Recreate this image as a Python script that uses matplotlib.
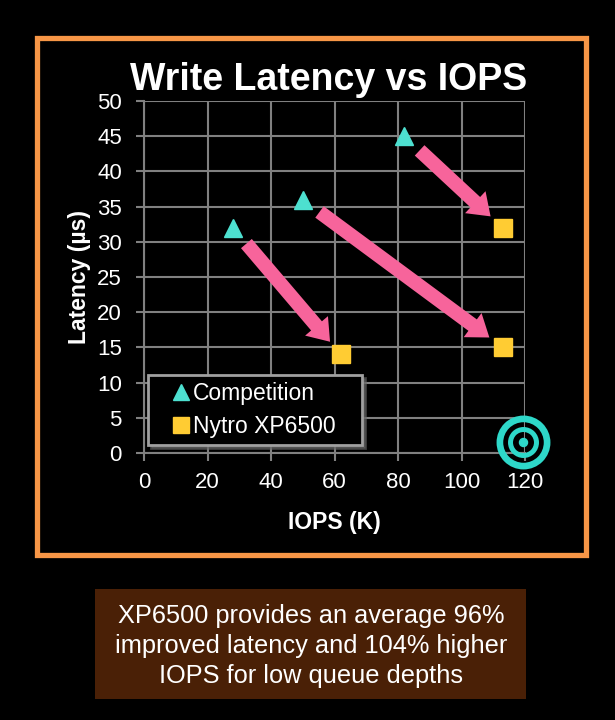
import matplotlib
matplotlib.use("Agg")
import matplotlib.pyplot as plt
from matplotlib.patches import Rectangle

plt.rcParams['font.family'] = ['Liberation Sans', 'DejaVu Sans']

# ---- data ----
competition_iops = [28, 50, 82]
competition_latency = [32, 36, 45]
nytro_iops = [62, 113, 113]
nytro_latency = [14, 15, 32]
# arrows: competition index -> nytro index
arrow_pairs = [(0, 0), (1, 1), (2, 2)]
series_labels = ["Competition", "Nytro XP6500"]
x_ticks = [0, 20, 40, 60, 80, 100, 120]
y_ticks = [0, 5, 10, 15, 20, 25, 30, 35, 40, 45, 50]
title = "Write Latency vs IOPS"
x_label = "IOPS (K)"
y_label = "Latency (µs)"
footnote = ("XP6500 provides an average 96%\n"
            "improved latency and 104% higher\n"
            "IOPS for low queue depths")

W, H = 615, 720
fig = plt.figure(figsize=(W / 100, H / 100), dpi=100, facecolor='black')

def fx(px):
    return px / W

def fy(py):
    return 1 - py / H

# orange frame
fig.patches.append(Rectangle((fx(37), fy(555)), fx(586) - fx(37), fy(38) - fy(555),
                             transform=fig.transFigure, fill=False,
                             edgecolor='#F79646', linewidth=3.8, zorder=0))
# brown footnote box
fig.patches.append(Rectangle((fx(95), fy(699)), fx(526) - fx(95), fy(589) - fy(699),
                             transform=fig.transFigure, facecolor='#4A2006',
                             edgecolor='none', zorder=0))
fig.text(fx(311), fy(646), footnote, ha='center', va='center', color='white',
         fontsize=18.3, linespacing=1.32)

ax = fig.add_axes([fx(144), fy(453), fx(525) - fx(144), fy(101) - fy(453)])
ax.set_facecolor('black')
ax.set_xlim(0, 120)
ax.set_ylim(0, 50)
ax.set_xticks(x_ticks)
ax.set_yticks(y_ticks)
ax.grid(True, color='#808080', linewidth=1.5)
ax.set_axisbelow(True)
for s in ['top', 'right']:
    ax.spines[s].set_visible(False)
for s in ['left', 'bottom']:
    ax.spines[s].set_color('#808080')
    ax.spines[s].set_linewidth(1.5)
ax.tick_params(colors='#808080', width=1.5, length=6, labelsize=16, labelcolor='white')
ax.tick_params(axis='y', pad=10)
ax.tick_params(axis='x', pad=8)

ax.set_xlabel(x_label, color='white', fontsize=16.5, fontweight='bold', labelpad=13)
ax.set_ylabel(y_label, color='white', fontsize=16.5, fontweight='bold', labelpad=4)

fig.text(fx(329), fy(90), title, ha='center', va='baseline', color='white',
         fontsize=27, fontweight='bold')

# arrows
for ci, ni in arrow_pairs:
    ax.annotate('', xy=(nytro_iops[ni], nytro_latency[ni]),
                xytext=(competition_iops[ci], competition_latency[ci]),
                arrowprops=dict(arrowstyle='simple,head_length=1.25,head_width=1.8,tail_width=0.85',
                                mutation_scale=12, color='#F7649B', linewidth=0,
                                shrinkA=15, shrinkB=12),
                zorder=3)

ax.plot(competition_iops, competition_latency, linestyle='none', marker='^',
        markersize=13, color='#4DE0D0', label=series_labels[0], zorder=4)
ax.plot(nytro_iops, nytro_latency, linestyle='none', marker='s',
        markersize=12.5, color='#FFCC33', label=series_labels[1], zorder=4)

# target symbol
target = (119.5, 1.6)
ax.plot(*target, marker='o', markersize=34, markerfacecolor='none',
        markeredgecolor='#2ED8C9', markeredgewidth=4.8, clip_on=False, zorder=5)
ax.plot(*target, marker='o', markersize=18.7, markerfacecolor='none',
        markeredgecolor='#2ED8C9', markeredgewidth=3.6, clip_on=False, zorder=5)
ax.plot(*target, marker='o', markersize=5.8, color='#2ED8C9', clip_on=False, zorder=5)

leg = ax.legend(loc='lower left', bbox_to_anchor=(0.0105, 0.0227, 0.5617, 0.2),
                mode='expand', borderaxespad=0,
                fontsize=16.5, frameon=True, fancybox=False, handlelength=2.3,
                handletextpad=-0.65, labelspacing=0.45, borderpad=0.3,
                shadow={'color': '#666666', 'alpha': 0.6})
leg.get_frame().set_facecolor('black')
leg.get_frame().set_edgecolor('#A0A0A0')
leg.get_frame().set_linewidth(2)
leg.get_frame().set_alpha(1)
for t in leg.get_texts():
    t.set_color('white')
for h in leg.legend_handles:
    h.set_markersize(11.5)

fig.savefig('out.png', dpi=100, facecolor='black')
